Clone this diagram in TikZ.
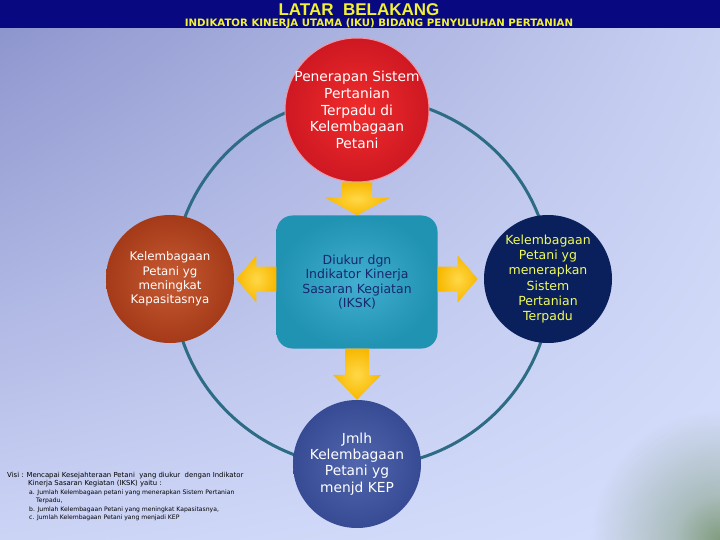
\documentclass[tikz,border=0pt]{standalone}
\usepackage{fontspec}
\setmainfont{DejaVu Sans}
\newfontfamily\judulfont{Liberation Sans}
\usetikzlibrary{shadings,fadings}

\definecolor{navyhead}{RGB}{8,8,128}
\definecolor{kuningjudul}{RGB}{242,242,50}
\definecolor{bgkiriatas}{RGB}{138,146,204}
\definecolor{bgkananatas}{RGB}{200,208,242}
\definecolor{bgkiribawah}{RGB}{204,212,246}
\definecolor{bgkananbawah}{RGB}{214,223,252}
\definecolor{hijaupojok}{RGB}{128,156,126}
\definecolor{garisring}{RGB}{45,108,132}
\definecolor{merahdalam}{RGB}{240,44,44}
\definecolor{merahluar}{RGB}{206,24,34}
\definecolor{merahrim}{RGB}{240,150,165}
\definecolor{oranyedalam}{RGB}{198,90,50}
\definecolor{oranyeluar}{RGB}{165,58,25}
\definecolor{navybulat}{RGB}{10,32,92}
\definecolor{birudalam}{RGB}{82,102,174}
\definecolor{biruluar}{RGB}{55,75,148}
\definecolor{tealdalam}{RGB}{66,174,208}
\definecolor{tealluar}{RGB}{32,146,178}
\definecolor{tekskotak}{RGB}{24,40,110}
\definecolor{kuningteks}{RGB}{240,250,90}
\definecolor{panahdalam}{RGB}{255,216,72}
\definecolor{panahluar}{RGB}{248,184,0}

\pgfdeclareradialshading{maskerpojok}{\pgfpointorigin}{color(0bp)=(white); color(15bp)=(white!50!black); color(43bp)=(black); color(50bp)=(black)}
\pgfdeclarefading{pudarpojok}{\pgfuseshading{maskerpojok}}

\begin{document}
\begin{tikzpicture}[x=1pt, y=-1pt]
	\tikzstyle{bulat} = [circle, inner sep=-8pt, minimum size=128pt, align=center]
	\tikzstyle{panah} = [inner color=panahdalam, outer color=panahluar]
	\useasboundingbox (0,0) rectangle (720,540);
	\shade[shading=bilinear interpolation, upper left=bgkiriatas, upper right=bgkananatas, lower left=bgkiribawah, lower right=bgkananbawah] (0,0) rectangle (720,540);
	\fill[hijaupojok, path fading=pudarpojok, fit fading=false, fading transform={shift={(720,540)}, scale=3}] (560,380) rectangle (720,540);
	\fill[navyhead] (0,0) rectangle (720,28);
	\node[anchor=base, font=\judulfont\bfseries\fontsize{17}{17}\selectfont, text=kuningjudul] (judul) at (359,15.5) {LATAR\ \ BELAKANG};
	\node[anchor=base, font=\bfseries\fontsize{10.2}{10.2}\selectfont, text=kuningjudul] (subjudul) at (379,27) {INDIKATOR KINERJA UTAMA (IKU) BIDANG PENYULUHAN PERTANIAN};
	\draw[garisring, line width=3pt] (362,282) ellipse (189pt and 185pt);
	\node[bulat, minimum size=144pt, inner color=merahdalam, outer color=merahluar, draw=merahrim, line width=1pt, text=white, font=\fontsize{13.8}{16.7}\selectfont] (penerapan) at (357,110) {Penerapan Sistem\\Pertanian\\Terpadu di\\Kelembagaan\\Petani};
	\node[rectangle, rounded corners=16pt, minimum width=161pt, minimum height=133pt, inner color=tealdalam, outer color=tealluar, text=tekskotak, align=center, font=\fontsize{12.5}{14.5}\selectfont] (iksk) at (357,282) {Diukur dgn\\Indikator Kinerja\\Sasaran Kegiatan\\(IKSK)};
	\node[bulat, inner color=oranyedalam, outer color=oranyeluar, text=white, font=\fontsize{11.8}{14.3}\selectfont] (kapasitas) at (170,279) {Kelembagaan\\Petani yg\\meningkat\\Kapasitasnya};
	\node[bulat, fill=navybulat, text=kuningteks, font=\fontsize{12.5}{15.2}\selectfont] (menerapkan) at (548,279) {Kelembagaan\\Petani yg\\menerapkan\\Sistem\\Pertanian\\Terpadu};
	\node[bulat, inner color=birudalam, outer color=biruluar, text=white, font=\fontsize{13.8}{16.3}\selectfont] (kep) at (357,464) {Jmlh\\Kelembagaan\\Petani yg\\menjd KEP};
	\shade[panah] (penerapan.south) ++(-15,0) -- ++(30,0) -- ++(0,15.5) -- ++(17.5,0) -- (iksk.north) -- ++(-32.5,-18) -- ++(17.5,0) -- cycle;
	\shade[panah] (iksk.south) ++(-12,0) -- ++(24,0) -- ++(0,26.5) -- ++(12,0) -- (kep.north) -- ++(-24,-25) -- ++(12,0) -- cycle;
	\shade[panah] (iksk.west) ++(0,-15.5) -- ++(0,25) -- ++(-20,0) -- ++(0,11) -- ++(-20,-23.5) -- ++(20,-23.5) -- ++(0,11) -- cycle;
	\shade[panah] (iksk.east) ++(0,-15.5) -- ++(0,25) -- ++(20,0) -- ++(0,11) -- ++(20,-23.5) -- ++(-20,-23.5) -- ++(0,11) -- cycle;
	\node[anchor=north west, align=left, inner sep=0pt, font=\fontsize{6.9}{8.3}\selectfont] (visi) at (7,472) {Visi : Mencapai Kesejahteraan Petani\ \ yang diukur\ \ dengan Indikator\\\hspace*{21pt}Kinerja Sasaran Kegiatan (IKSK) yaitu :};
	\node[anchor=north west, align=left, inner sep=0pt, font=\fontsize{6.1}{8.4}\selectfont] (daftar) at (29,489.5) {a. Jumlah Kelembagaan petani yang menerapkan Sistem Pertanian\\\hspace*{7pt}Terpadu,\\b. Jumlah Kelembagaan Petani yang meningkat Kapasitasnya,\\c. Jumlah Kelembagaan Petani yang menjadi KEP};
\end{tikzpicture}
\end{document}
